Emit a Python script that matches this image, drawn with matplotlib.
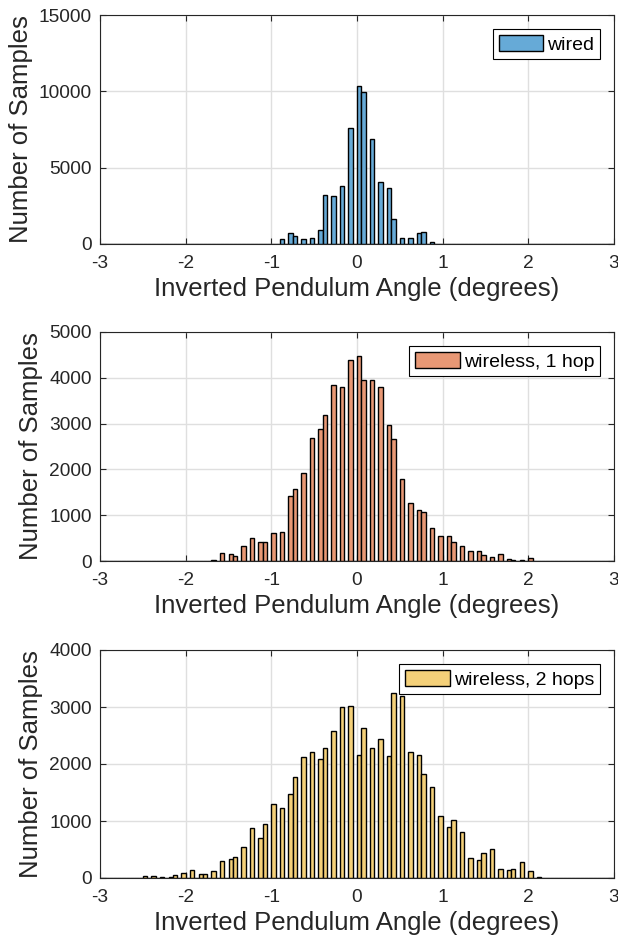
import numpy as np
import matplotlib
matplotlib.use("Agg")
import matplotlib.pyplot as plt

plt.rcParams['font.family'] = ['Liberation Sans', 'DejaVu Sans']
plt.rcParams['axes.unicode_minus'] = False

# encoder resolution (degrees per count)
RES = 360.0 / 4096.0

# --- wired ---
wired_levels = [-10, -9, -8, -7, -6, -5, -4, -3, -2, -1, 0, 1, 2, 3, 4, 5, 6, 7, 8, 9, 10]
wired_counts = [330, 700, 500, 310, 420, 940, 3200, 3160, 3790, 7630, 10370, 9930, 6890, 4060, 3660, 1620, 420, 370, 700, 810, 150]

# --- wireless, 1 hop ---
hop1_levels = [-19, -18, -17, -16, -15, -14, -13, -12, -11, -10, -9, -8, -7, -6, -5, -4, -3, -2, -1, 0,
               1, 2, 3, 4, 5, 6, 7, 8, 9, 10, 11, 12, 13, 14, 15, 16, 17, 18, 19, 20, 21, 22, 23]
hop1_counts = [30, 183, 154, 103, 322, 498, 425, 425, 608, 637, 1421, 1568, 1927, 2689, 2879, 3194, 3846, 3802, 4396, 4469,
               3949, 3949, 3802, 2960, 2659, 1780, 1275, 1121, 1062, 725, 535, 535, 410, 330, 227, 220, 132, 88, 147, 44, 22, 29, 66]

# --- wireless, 2 hops ---
hop2_levels = [-28, -27, -26, -25, -24, -23, -22, -21, -20, -19, -18, -17, -16, -15, -14, -13, -12, -11, -10, -9,
               -8, -7, -6, -5, -4, -3, -2, -1, 0, 1, 2, 3, 4, 5, 6, 7, 8, 9, 10, 11, 12, 13, 14, 15, 16,
               17, 18, 19, 20, 21, 22, 23, 24]
hop2_counts = [29, 40, 23, 23, 52, 87, 134, 76, 76, 122, 291, 331, 366, 547, 872, 698, 948, 1291, 1233, 1477,
               1773, 2128, 2215, 2093, 2285, 2576, 3000, 3012, 2163, 2628, 2279, 2430, 2134, 3250, 3198, 2209, 2163, 1831, 1599, 1087, 901,
               1023, 802, 349, 308, 436, 512, 157, 145, 151, 285, 128, 12]

series = [
    ("wired", wired_levels, wired_counts, "#66AAD7", [0, 5000, 10000, 15000]),
    ("wireless, 1 hop", hop1_levels, hop1_counts, "#E89875", [0, 1000, 2000, 3000, 4000, 5000]),
    ("wireless, 2 hops", hop2_levels, hop2_counts, "#F4D079", [0, 1000, 2000, 3000, 4000]),
]

edges = np.arange(-60, 61) * 0.05

W, H = 618, 935
fig = plt.figure(figsize=(W / 100, H / 100), dpi=100)
axes_px = [(15, 244), (332, 561), (650, 878)]
spine_c = "#262626"

for (label, lev, cnt, col, yt), (top, bot) in zip(series, axes_px):
    ax = fig.add_axes([100 / W, 1 - bot / H, 514 / W, (bot - top) / H])
    angles = np.array(lev) * RES
    ax.hist(angles, bins=edges, weights=cnt, color=col, edgecolor="black",
            linewidth=1.0, label=label, zorder=2)
    ax.set_xlim(-3, 3)
    ax.set_ylim(yt[0], yt[-1])
    ax.set_xticks([-3, -2, -1, 0, 1, 2, 3])
    ax.set_yticks(yt)
    ax.set_xticklabels(["-3", "-2", "-1", "0", "1", "2", "3"])
    ax.set_yticklabels([str(v) for v in yt])
    ax.grid(True, color="#DFDFDF", linewidth=1.0, zorder=0)
    ax.set_axisbelow(True)
    for s in ax.spines.values():
        s.set_color(spine_c)
        s.set_linewidth(0.8)
    ax.tick_params(direction="in", top=True, right=True, length=4, width=0.8,
                   labelsize=13.8, colors=spine_c, labelcolor=spine_c)
    ax.tick_params(axis="x", pad=8)
    ax.tick_params(axis="y", pad=6)
    ax.set_xlabel("Inverted Pendulum Angle (degrees)", fontsize=18.5, labelpad=3.5, color=spine_c)
    ax.set_ylabel("Number of Samples", fontsize=18.5, labelpad=4, color=spine_c)
    leg = ax.legend(loc="upper right", bbox_to_anchor=(1 - 14 / 514, 1 - 14 / (bot - top)),
                    borderaxespad=0, fancybox=False, framealpha=1, edgecolor="black",
                    fontsize=14.0, handlelength=2.3, handleheight=0.9, handletextpad=0.2,
                    borderpad=0.3)
    leg.get_frame().set_linewidth(0.8)

fig.savefig("out.png", dpi=100)
